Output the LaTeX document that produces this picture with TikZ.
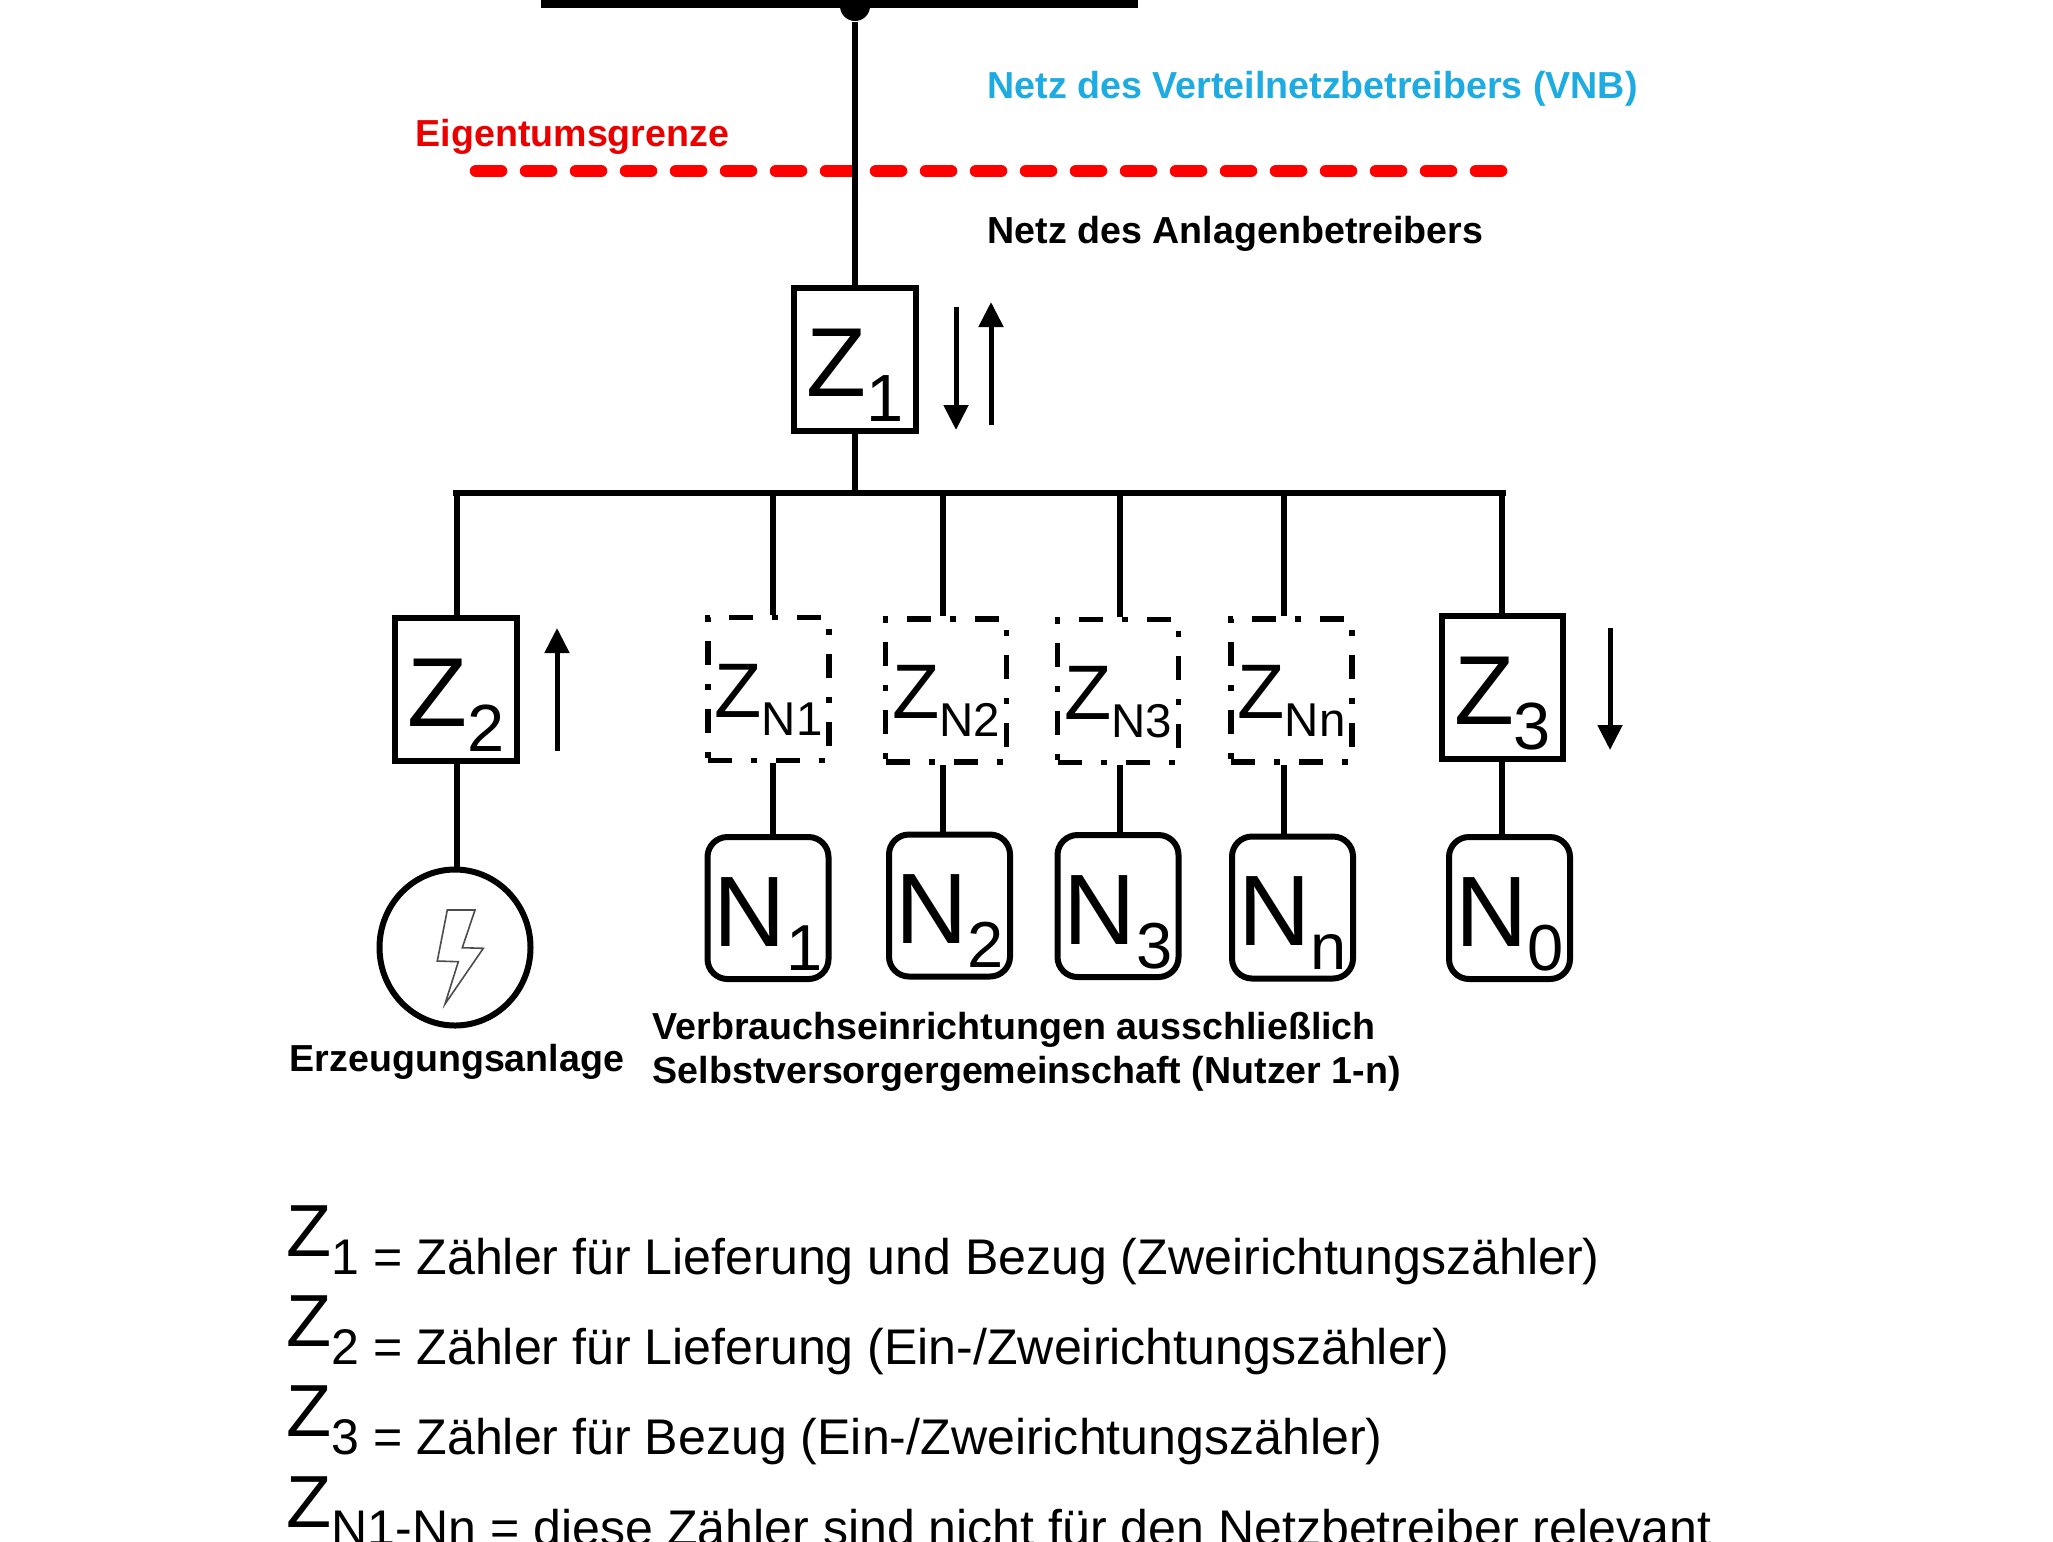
\documentclass[tikz,border=0pt]{standalone}
\usepackage{fontspec}
\setmainfont{Liberation Sans}
\usetikzlibrary{arrows.meta,shapes.geometric}
\definecolor{vnbblue}{RGB}{29,171,226}
\newcommand{\subtext}[6]{{\fontsize{#1}{#1}\selectfont #3}\raisebox{-#5cm}{\fontsize{#2}{#2}\selectfont #4}#6}
\tikzset{>={Triangle[width=0.24cm,length=0.25cm]}}
\tikzset{
  wire/.style={line width=0.055cm},
  flow/.style={->,line width=0.05cm},
  meter/.style={draw,line width=0.06cm,minimum width=1.215cm,minimum height=1.43cm,inner sep=0pt,text height=1.0cm,text depth=0.26cm},
  submeter/.style={draw,line width=0.055cm,dash pattern=on 0.24cm off 0.19cm on 0.06cm off 0.19cm,minimum width=1.21cm,minimum height=1.43cm,inner sep=0pt,text height=0.74cm,text depth=0.18cm},
  load/.style={draw,line width=0.06cm,rounded corners=0.2cm,minimum width=1.21cm,minimum height=1.42cm,inner sep=0pt,text height=1.0cm,text depth=0.24cm},
  boldlabel/.style={font=\fontsize{10.7}{12}\selectfont\bfseries,anchor=base west,inner sep=0pt},
  legend/.style={anchor=base west,inner sep=0pt},
}
\begin{document}
\begin{tikzpicture}[y=-1cm]
    \useasboundingbox (0,0) rectangle (20.53,15.41);
    \clip (0,0) rectangle (20.53,15.41);
    % texts at the top
    \node[boldlabel,text=vnbblue] (vnb) at (9.87,0.98) {Netz des Verteilnetzbetreibers (VNB)};
    \node[boldlabel,text=red!92!black] (grenze) at (4.15,1.46) {Eigentumsgrenze};
    \node[boldlabel] (anlage) at (9.87,2.43) {Netz des Anlagenbetreibers};
    % boundary
    \coordinate (grenzeL) at (4.76,1.71);
    \coordinate (grenzeR) at (15.02,1.71);
    \draw[red,line width=0.125cm,line cap=round,dash pattern=on 0.25cm off 0.25cm] (grenzeL)--(grenzeR);
    % feeder
    \coordinate (topL) at (5.41,0.04);
    \coordinate (topR) at (11.38,0.04);
    \draw[line width=0.08cm] (topL)--(topR);
    \node[circle,fill,inner sep=0pt,minimum size=0.3cm] (tap) at (8.55,0.06) {};
    \node[meter] (z1) at (8.55,3.59) {\subtext{27.9}{19}{Z}{1}{0.25}{}};
    \coordinate (busL) at (4.53,4.93);
    \coordinate (busR) at (15.06,4.93);
    \coordinate (busM) at (8.55,4.93);
    \draw[line width=0.064cm] (busL)--(busR);
    \draw[wire] (tap)--(z1);
    \draw[wire] (z1)--(busM);
    % meters
    \node[meter] (z2) at (4.56,6.895) {\subtext{27.9}{19}{Z}{2}{0.25}{}};
    \node[meter] (z3) at (15.025,6.87) {\subtext{27.9}{19}{Z}{3}{0.25}{}};
    \foreach \nm/\x/\y/\s in {zn1/7.685/6.89/N1,zn2/9.46/6.905/N2,zn3/11.18/6.91/N3,znn/12.915/6.905/Nn}
      \node[submeter] (\nm) at (\x,\y) {\subtext{22}{13.5}{Z}{\s}{0.18}{}};
    % loads
    \foreach \nm/\x/\y/\s in {n1/7.68/9.08/1,n2/9.495/9.055/2,n3/11.18/9.06/3,nn/12.925/9.075/n,n0/15.095/9.08/0}
      \node[load] (\nm) at (\x,\y) {\subtext{28.5}{18.5}{N}{\s}{0.24}{}};
    \node[ellipse,draw,line width=0.06cm,minimum width=1.51cm,minimum height=1.56cm,inner sep=0pt] (gen) at (4.55,9.475) {};
    \draw[gray!60!black,line width=0.016cm,line join=miter] (4.473,9.10)--(4.75,9.10)--(4.623,9.477)--(4.833,9.483)--(4.45,10.04)--(4.583,9.617)--(4.373,9.61)--cycle;
    % drops from the bus
    \foreach \nm/\x/\a/\b in {d2/4.57/z2/gen,d1/7.73/zn1/n1,d3/9.43/zn2/n2,d4/11.20/zn3/n3,d5/12.84/znn/nn,d6/15.02/z3/n0}{
      \coordinate (\nm) at (\x,4.93);
      \draw[wire] (\nm)--(\nm|-\a.north);
      \draw[wire] (\nm|-\a.south)--(\nm|-\b.north);
    }
    % energy direction
    \foreach \nm/\x/\ya/\yb in {fa/9.56/3.07/4.30,fb/9.91/4.25/3.02,fc/5.57/7.51/6.28,fd/16.10/6.28/7.50}{
      \coordinate (\nm s) at (\x,\ya);
      \coordinate (\nm e) at (\x,\yb);
      \draw[flow] (\nm s)--(\nm e);
    }
    % captions
    \node[boldlabel] (erz) at (2.89,10.71) {Erzeugungsanlage};
    \node[boldlabel] (verb1) at (6.52,10.39) {Verbrauchseinrichtungen ausschließlich};
    \node[boldlabel] (verb2) at (6.52,10.83) {Selbstversorgergemeinschaft (Nutzer 1-n)};
    % legend
    \node[legend] (leg1) at (2.86,12.56) {\subtext{21}{14.25}{Z}{1 = Zähler für Lieferung und Bezug (Zweirichtungszähler)}{0.18}{}};
    \node[legend] (leg2) at (2.86,13.46) {\subtext{21}{14.25}{Z}{2 = Zähler für Lieferung (Ein-/Zweirichtungszähler)}{0.18}{}};
    \node[legend] (leg3) at (2.86,14.36) {\subtext{21}{14.25}{Z}{3 = Zähler für Bezug (Ein-/Zweirichtungszähler)}{0.18}{}};
    \node[legend] (leg4) at (2.86,15.27) {\subtext{21}{14.25}{Z}{N1-Nn = diese Zähler sind nicht für den Netzbetreiber relevant}{0.18}{}};
\end{tikzpicture}
\end{document}
